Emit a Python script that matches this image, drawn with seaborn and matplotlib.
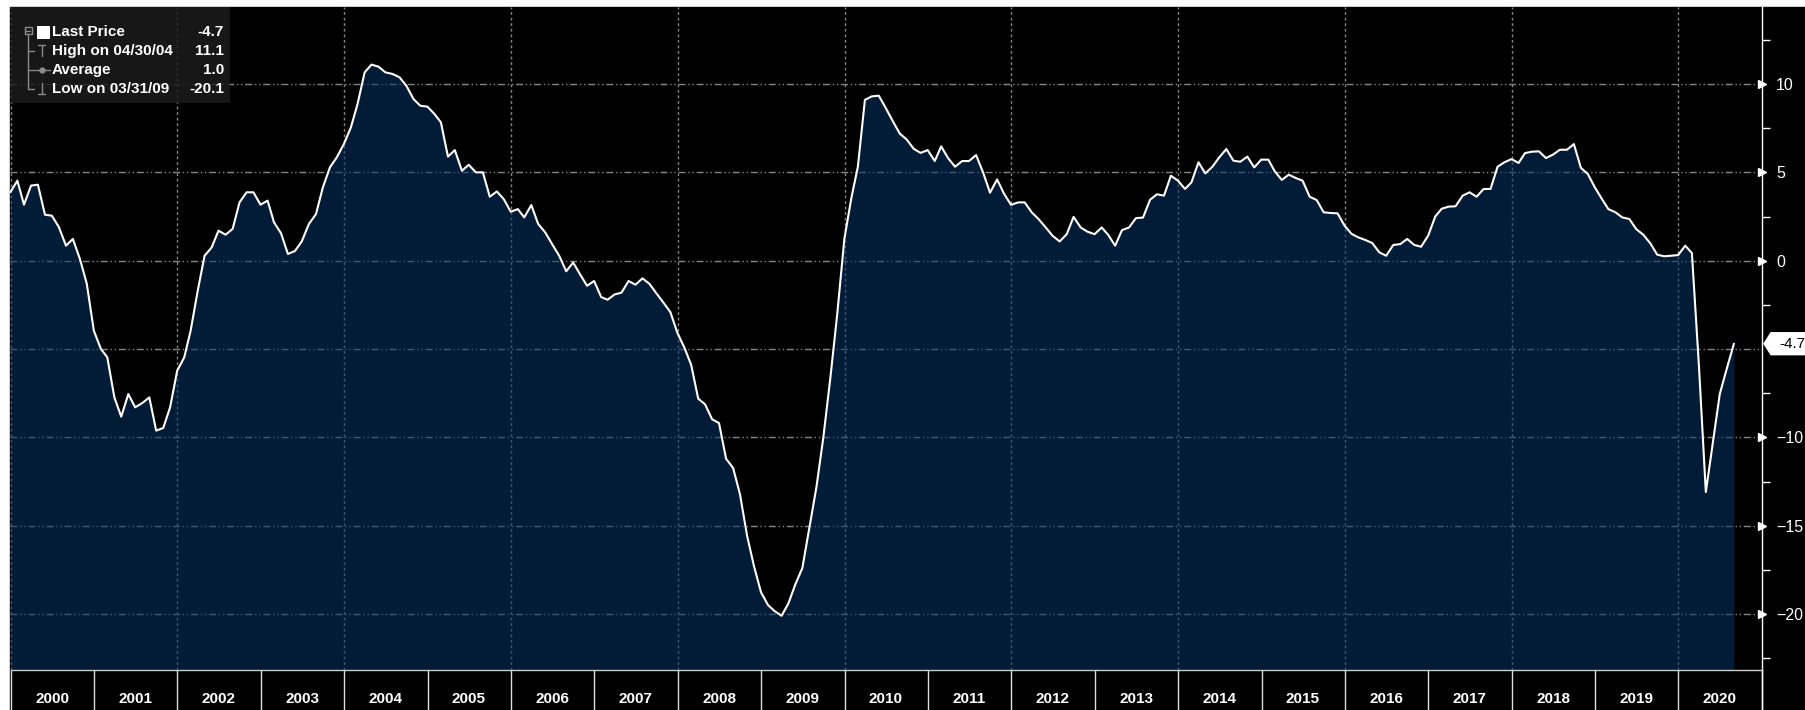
import numpy as np
import pandas as pd
import matplotlib
matplotlib.use('Agg')
import matplotlib.pyplot as plt
import matplotlib.dates as mdates
import matplotlib.ticker as mticker
import matplotlib.transforms as mtransforms
from matplotlib.patches import Rectangle, Polygon
from matplotlib.lines import Line2D
import seaborn as sns

# monthly readings (month end), Dec 1999 .. Aug 2020
vals_1999_2003 = [3.87, 4.53, 3.17, 4.25, 4.3, 2.6, 2.55, 1.9, 0.85, 1.23, 0.1, -1.3,
                  -3.96, -5.0, -5.47, -7.74, -8.83, -7.55, -8.3, -8.06, -7.74, -9.62, -9.47, -8.3,
                  -6.23, -5.47, -3.96, -1.7, 0.28, 0.75, 1.7, 1.47, 1.8, 3.3, 3.87, 3.87,
                  3.17, 3.4, 2.17, 1.55, 0.38, 0.55, 1.1, 2.08, 2.64, 4.15, 5.28, 5.85,
                  6.6]
vals_2004_2007 = [7.55, 8.87, 10.66, 11.1, 10.98, 10.66, 10.57, 10.38, 9.9, 9.15, 8.77, 8.72,
                  8.3, 7.83, 5.89, 6.26, 5.09, 5.43, 5.0, 5.0, 3.62, 3.92, 3.49, 2.77,
                  2.92, 2.45, 3.15, 2.08, 1.6, 0.94, 0.28, -0.6, -0.1, -0.78, -1.42, -1.15,
                  -2.06, -2.21, -1.91, -1.81, -1.15, -1.36, -1.0, -1.32, -1.85, -2.38, -2.91, -4.09]
vals_2008_2011 = [-4.94, -5.89, -7.81, -8.13, -8.98, -9.19, -11.21, -11.74, -13.23, -15.57, -17.28, -18.77,
                  -19.5, -19.83, -20.1, -19.4, -18.3, -17.4, -15.1, -12.8, -10.0, -6.6, -3.0, 1.23,
                  3.57, 5.3, 9.1, 9.3, 9.34, 8.65, 7.9, 7.19, 6.86, 6.33, 6.1, 6.26,
                  5.64, 6.47, 5.79, 5.32, 5.64, 5.64, 5.98, 4.98, 3.85, 4.6, 3.8, 3.16]
vals_2012_2015 = [3.3, 3.3, 2.73, 2.35, 1.88, 1.41, 1.09, 1.5, 2.48, 1.88, 1.64, 1.5,
                  1.88, 1.47, 0.85, 1.73, 1.88, 2.41, 2.44, 3.45, 3.76, 3.68, 4.81, 4.53,
                  4.06, 4.43, 5.57, 4.94, 5.32, 5.85, 6.32, 5.66, 5.6, 5.89, 5.28, 5.72,
                  5.72, 5.06, 4.57, 4.87, 4.68, 4.53, 3.62, 3.43, 2.74, 2.7, 2.68, 1.98]
vals_2016_2020 = [1.51, 1.32, 1.17, 1.0, 0.47, 0.28, 0.89, 0.94, 1.23, 0.89, 0.79, 1.42,
                  2.5, 2.94, 3.06, 3.08, 3.68, 3.87, 3.62, 4.06, 4.06, 5.32, 5.57, 5.75,
                  5.53, 6.09, 6.17, 6.19, 5.81, 6.0, 6.28, 6.28, 6.6, 5.25, 4.91, 4.15,
                  3.49, 2.92, 2.74, 2.45, 2.36, 1.79, 1.47, 0.98, 0.34, 0.25, 0.28, 0.32,
                  0.85, 0.43, -6.0, -13.1, -10.3, -7.55, -6.1, -4.7]
start_date = '1999-12-31'
average_value = 1.0
y_major = [-20, -15, -10, -5, 0, 5, 10]
y_minor = [-22.5, -17.5, -12.5, -7.5, -2.5, 2.5, 7.5, 12.5]
grid_years = list(range(2000, 2021, 2))

values = np.array(vals_1999_2003 + vals_2004_2007 + vals_2008_2011 + vals_2012_2015 + vals_2016_2020)
df = pd.DataFrame({'date': pd.date_range(start_date, periods=len(values), freq='ME'),
                   'value': values})

sns.set_style('dark', {'axes.facecolor': 'black', 'figure.facecolor': 'white'})
plt.rcParams['font.family'] = ['Liberation Sans', 'DejaVu Sans']

W, H = 1806, 710
fig = plt.figure(figsize=(W / 100, H / 100), dpi=100)


def fp(x, y):
    # pixel (from top-left) -> figure fraction
    return (x / W, 1 - y / H)


fig.patches.append(Rectangle((10.5 / W, 0), 1, 1 - 7 / H, transform=fig.transFigure,
                             color='black', zorder=-10))
ax = fig.add_axes([10.5 / W, 40 / H, (1762 - 10.5) / W, (703 - 40) / H])
ax.set_facecolor('black')

ymin, ymax = -23.17, 14.36
ax.fill_between(df['date'], df['value'], y2=ymin - 5, color=(5 / 255, 50 / 255, 100 / 255),
                alpha=0.55, lw=0, zorder=2)
sns.lineplot(data=df, x='date', y='value', color='white', lw=1.5, ax=ax, zorder=3)

ax.set_xlim(pd.Timestamp('2000-01-01'), pd.Timestamp('2021-01-01'))
ax.set_ylim(ymin, ymax)
ax.set_xlabel('')
ax.set_ylabel('')

# grid
ax.set_axisbelow(True)
ax.set_yticks(y_major)
ax.yaxis.grid(True, color='#858585', lw=1, linestyle=(0, (5, 2, 1, 2, 1, 2)))
ax.xaxis.grid(False)
for yr in grid_years:
    ax.axvline(pd.Timestamp(f'{yr}-01-01'), color='#858585', lw=1, ls=(0, (2, 2)), zorder=1)

# x axis: dividers at year starts, labels mid-year
ax.xaxis.set_major_locator(mdates.YearLocator(1))
ax.xaxis.set_major_formatter(mticker.NullFormatter())
ax.xaxis.set_minor_locator(mdates.MonthLocator(bymonth=7))
ax.xaxis.set_minor_formatter(mdates.DateFormatter('%Y'))
ax.tick_params(axis='x', which='major', bottom=True, direction='out', length=29, width=1,
               color='#dddddd')
ax.tick_params(axis='x', which='minor', bottom=True, length=0, pad=16, labelcolor='white',
               labelsize=11)
for lbl in ax.get_xticklabels(minor=True):
    lbl.set_fontweight('bold')

# y axis on the right
ax.yaxis.tick_right()
ax.yaxis.set_major_formatter(mticker.FuncFormatter(
    lambda v, p: '' if v == -5 else f'{v:g}'.replace('-', '\u2212')))
ax.yaxis.set_minor_locator(mticker.FixedLocator(y_minor))
ax.tick_params(axis='y', which='major', left=False, right=True, labelleft=False, labelright=True,
               length=0, pad=10, labelcolor='white', labelsize=11.5)
ax.tick_params(axis='y', which='minor', left=False, right=True, length=6, width=1, color='white')
tri = [v for v in y_major if v != -5]
ax.plot([1.0] * len(tri), tri, transform=ax.get_yaxis_transform(), marker='>', ls='none',
        color='white', ms=6, clip_on=False, zorder=5)

for s in ['left', 'top']:
    ax.spines[s].set_visible(False)
ax.spines['bottom'].set_color('#cccccc')
ax.spines['right'].set_color('white')
for s in ['bottom', 'right']:
    ax.spines[s].set_linewidth(1)
fig.add_artist(Line2D([1762 / W, 1762 / W], [0, 40 / H], transform=fig.transFigure,
                      color='white', lw=1))

# last value flag
last = values[-1]
bt = mtransforms.blended_transform_factory(fig.transFigure, ax.transData)
hh = 0.62
ax.add_patch(Polygon([(1764 / W, last), (1771 / W, last + hh), (1.0, last + hh),
                      (1.0, last - hh), (1771 / W, last - hh)], closed=True, transform=bt,
                     fc='white', ec='white', clip_on=False, zorder=6))
ax.text(1805 / W, last, f'{last:.1f}', transform=bt, ha='right', va='center',
        color='black', fontsize=11, zorder=7)

# legend box
hi_i = int(np.argmax(values))
lo_i = int(np.argmin(values))
hi_date = df['date'][hi_i].strftime('%m/%d/%y')
lo_date = df['date'][lo_i].strftime('%m/%d/%y')
rows = [32, 51, 70, 89]
labels = ['Last Price', f'High on {hi_date}', 'Average', f'Low on {lo_date}']
nums = [f'{last:.1f}', f'{values[hi_i]:.1f}', f'{average_value:.1f}', f'{values[lo_i]:.1f}']

x0, y0 = fp(11, 103)
fig.add_artist(Rectangle((x0, y0), 219 / W, 96 / H, transform=fig.transFigure,
                         fc='#1c1c1c', ec='none', alpha=0.85, zorder=10))
for y, lab, num in zip(rows, labels, nums):
    fig.text(*fp(52, y), lab, color='white', fontsize=11, fontweight='bold',
             va='center', ha='left', zorder=11)
    fig.text(*fp(224, y), num, color='white', fontsize=11, fontweight='bold',
             va='center', ha='right', zorder=11)

sq = fp(37, 39)
fig.add_artist(Rectangle(sq, 13 / W, 13 / H, transform=fig.transFigure, fc='white',
                         ec='none', zorder=12))
gray = '#8a8a8a'
tree_lines = [
    [(25, 27), (32, 27)], [(32, 27), (32, 34)], [(32, 34), (25, 34)], [(25, 34), (25, 27)],
    [(26.5, 30.5), (30.5, 30.5)],
    [(28.5, 34), (28.5, 89)],
    [(28.5, 51), (34, 51)], [(28.5, 70), (34, 70)], [(28.5, 89), (34, 89)],
    [(42, 45), (42, 56)], [(38.5, 45), (45.5, 45)],
    [(35, 70), (50, 70)],
    [(42, 83), (42, 94)], [(38.5, 94), (45.5, 94)],
]
for (a, b) in tree_lines:
    pa, pb = fp(*a), fp(*b)
    fig.add_artist(Line2D([pa[0], pb[0]], [pa[1], pb[1]], transform=fig.transFigure,
                          color=gray, lw=1, zorder=12))
fig.add_artist(Line2D([fp(42, 70)[0]], [fp(42, 70)[1]], transform=fig.transFigure,
                      marker='o', ms=3.5, color=gray, zorder=12))

fig.savefig('out.png', dpi=100)
